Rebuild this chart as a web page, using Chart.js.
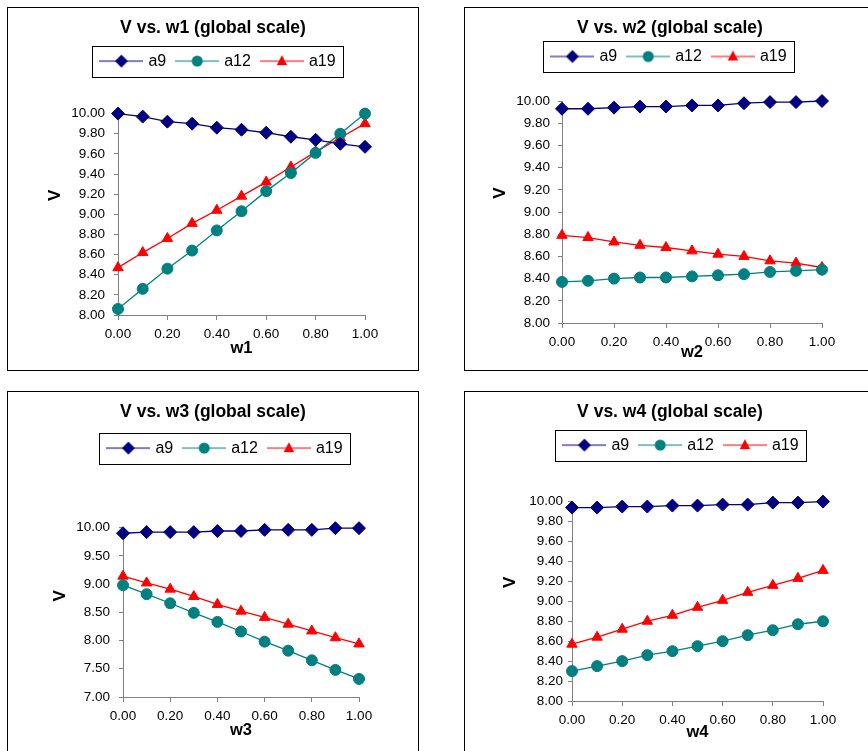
<!DOCTYPE html>
<html><head><meta charset="utf-8">
<script src="https://cdn.jsdelivr.net/npm/chart.js@4.4.0/dist/chart.umd.min.js"></script>
<style>
html,body{margin:0;padding:0;background:#fff;overflow:hidden;width:868px;height:751px;}
.panel{position:absolute;border:1px solid #000;background:#fff;width:410px;height:362px;}
.panel canvas{position:absolute;left:0;top:0;}
</style></head><body>
<div class="panel" style="left:7px;top:7px"><canvas id="c1" width="410" height="362"></canvas></div>
<div class="panel" style="left:464px;top:7px"><canvas id="c2" width="410" height="362"></canvas></div>
<div class="panel" style="left:7px;top:391px"><canvas id="c3" width="410" height="362"></canvas></div>
<div class="panel" style="left:464px;top:391px"><canvas id="c4" width="410" height="362"></canvas></div>
<script>
// ---- data ----
const wValues = [0.0, 0.1, 0.2, 0.3, 0.4, 0.5, 0.6, 0.7, 0.8, 0.9, 1.0];
const xTickValues = [0.0, 0.2, 0.4, 0.6, 0.8, 1.0];
const seriesNames = ['a9', 'a12', 'a19'];

const w1_a9  = [10.00, 9.97, 9.92, 9.90, 9.86, 9.84, 9.81, 9.77, 9.74, 9.70, 9.67];
const w1_a12 = [8.06, 8.26, 8.46, 8.64, 8.84, 9.03, 9.23, 9.41, 9.61, 9.80, 10.00];
const w1_a19 = [8.47, 8.62, 8.76, 8.91, 9.04, 9.18, 9.32, 9.47, 9.62, 9.76, 9.90];
const w1_yTicks = [8.0, 8.2, 8.4, 8.6, 8.8, 9.0, 9.2, 9.4, 9.6, 9.8, 10.0];

const w2_a9  = [9.93, 9.93, 9.94, 9.95, 9.95, 9.96, 9.96, 9.98, 9.99, 9.99, 10.00];
const w2_a12 = [8.37, 8.38, 8.40, 8.41, 8.41, 8.42, 8.43, 8.44, 8.46, 8.47, 8.48];
const w2_a19 = [8.79, 8.77, 8.73, 8.70, 8.68, 8.65, 8.62, 8.60, 8.56, 8.54, 8.50];
const w2_yTicks = [8.0, 8.2, 8.4, 8.6, 8.8, 9.0, 9.2, 9.4, 9.6, 9.8, 10.0];

const w3_a9  = [9.90, 9.92, 9.92, 9.92, 9.94, 9.94, 9.96, 9.96, 9.96, 9.99, 9.99];
const w3_a12 = [8.98, 8.82, 8.66, 8.49, 8.33, 8.16, 7.98, 7.82, 7.65, 7.48, 7.32];
const w3_a19 = [9.14, 9.02, 8.91, 8.78, 8.64, 8.52, 8.41, 8.29, 8.17, 8.05, 7.94];
const w3_yTicks = [7.0, 7.5, 8.0, 8.5, 9.0, 9.5, 10.0];

const w4_a9  = [9.94, 9.94, 9.95, 9.95, 9.96, 9.96, 9.97, 9.97, 9.99, 9.99, 10.00];
const w4_a12 = [8.30, 8.35, 8.40, 8.46, 8.50, 8.55, 8.60, 8.66, 8.71, 8.77, 8.80];
const w4_a19 = [8.57, 8.64, 8.72, 8.80, 8.86, 8.94, 9.01, 9.09, 9.16, 9.23, 9.31];
const w4_yTicks = [8.0, 8.2, 8.4, 8.6, 8.8, 9.0, 9.2, 9.4, 9.6, 9.8, 10.0];

// ---- styling ----
const FONT = "'Liberation Sans', Arial, Helvetica, sans-serif";
Chart.defaults.font.family = FONT;
Chart.defaults.color = '#000';
const AXIS_GRAY = '#808080';
const styles = [
  {color: '#000080', shape: 'rectRot', radius: 6.5},
  {color: '#008080', shape: 'circle', radius: 5.5},
  {color: '#FF0000', shape: 'triangle', radius: 6}
];

function makeIcon(st) {
  const c = document.createElement('canvas');
  c.width = 44; c.height = 16;
  const g = c.getContext('2d');
  const cy = 8, cx = 22;
  g.strokeStyle = st.color; g.lineWidth = 1.2;
  g.beginPath(); g.moveTo(0, cy); g.lineTo(44, cy); g.stroke();
  g.fillStyle = st.color;
  g.beginPath();
  const r = st.radius;
  if (st.shape === 'rectRot') {
    g.moveTo(cx - r, cy); g.lineTo(cx, cy - r); g.lineTo(cx + r, cy); g.lineTo(cx, cy + r);
  } else if (st.shape === 'circle') {
    g.arc(cx, cy, r, 0, Math.PI * 2);
  } else {
    g.moveTo(cx, cy - r); g.lineTo(cx + 0.866 * r, cy + 0.5 * r + 1); g.lineTo(cx - 0.866 * r, cy + 0.5 * r + 1);
  }
  g.closePath(); g.fill();
  return c;
}
const icons = styles.map(makeIcon);

const legendBox = {
  id: 'legendBox',
  afterLayout(chart, args, opts) {
    const lg = chart.legend;
    const dx = opts.shift || 0;
    lg.left += dx; lg.right += dx;
  },
  afterDraw(chart, args, opts) {
    const hb = chart.legend.legendHitBoxes;
    if (!hb || !hb.length) return;
    const ctx = chart.ctx;
    const last = hb[hb.length - 1];
    const l = hb[0].left - 3 - 7;
    const r = last.left + last.width + 8;
    const cy = hb[0].top + hb[0].height / 2;
    ctx.save();
    ctx.strokeStyle = '#000';
    ctx.lineWidth = 1;
    ctx.strokeRect(Math.round(l) + 0.5, Math.round(cy - 15.5) + 0.5, Math.round(r - l), 31);
    ctx.restore();
  }
};

function makeChart(id, xName, yTicks, s9, s12, s19, geo) {
  const series = [s9, s12, s19];
  const datasets = series.map((vals, i) => ({
    label: seriesNames[i],
    data: wValues.map((w, k) => ({x: w, y: vals[k]})),
    borderColor: styles[i].color,
    backgroundColor: styles[i].color,
    borderWidth: 1.3,
    pointStyle: styles[i].shape,
    pointRadius: styles[i].radius,
    pointBorderWidth: 1,
    pointBorderColor: styles[i].color,
    pointBackgroundColor: styles[i].color,
    tension: 0,
    clip: false
  }));
  const yStep = yTicks[1] - yTicks[0];
  const xStep = xTickValues[1] - xTickValues[0];
  return new Chart(document.getElementById(id), {
    type: 'line',
    data: {datasets},
    plugins: [legendBox],
    options: {
      responsive: false,
      animation: false,
      devicePixelRatio: 1,
      layout: {padding: 0},
      plugins: {
        tooltip: {enabled: false},
        title: {
          display: true,
          text: 'V vs. ' + xName + ' (global scale)',
          color: '#000',
          font: {size: 17.5, weight: 'bold', family: FONT, lineHeight: 1.2},
          padding: {top: 10, bottom: geo.titleBottom}
        },
        legend: {
          display: true,
          position: 'top',
          labels: {
            color: '#000',
            font: {size: 16, family: FONT},
            usePointStyle: true,
            pointStyleWidth: 38,
            padding: 12,
            generateLabels(chart) {
              const items = Chart.defaults.plugins.legend.labels.generateLabels(chart);
              items.forEach((it, i) => { it.pointStyle = icons[i]; });
              return items;
            }
          }
        },
        legendBox: {shift: geo.legendShift}
      },
      scales: {
        x: {
          type: 'linear',
          position: 'bottom',
          min: xTickValues[0],
          max: xTickValues[xTickValues.length - 1],
          ticks: {
            stepSize: xStep,
            callback: v => v.toFixed(2),
            font: {size: 13.5, family: FONT},
            color: '#000',
            padding: geo.xTickPad,
            maxRotation: 0,
            autoSkip: false
          },
          grid: {display: true, drawOnChartArea: false, drawTicks: true, tickLength: 5, color: AXIS_GRAY},
          border: {display: true, color: AXIS_GRAY, width: 1},
          title: {
            display: true, text: xName, color: '#000',
            font: {size: 16.5, weight: 'bold', family: FONT},
            padding: {top: 0, bottom: geo.xTitlePad}
          },
          afterFit(s) { s.height = geo.xH; }
        },
        y: {
          type: 'linear',
          position: 'left',
          min: yTicks[0],
          max: yTicks[yTicks.length - 1],
          ticks: {
            stepSize: yStep,
            callback: v => v.toFixed(2),
            font: {size: 13.5, family: FONT},
            color: '#000',
            padding: geo.yTickPad,
            autoSkip: false
          },
          grid: {display: true, drawOnChartArea: false, drawTicks: true, tickLength: 4, color: AXIS_GRAY},
          border: {display: true, color: AXIS_GRAY, width: 1},
          title: {
            display: true, text: 'V'.padStart(geo.yTitleShift + 1, ' '), color: '#000',
            font: {size: 17, weight: 'bold', family: FONT},
            padding: {top: geo.yTitlePad, bottom: 0}
          },
          afterFit(s) { s.width = geo.yW; }
        },
        xTopSpace: {
          type: 'linear', position: 'top', display: true,
          grid: {display: false}, border: {display: false}, ticks: {display: false},
          afterFit(s) { s.height = geo.topGap; }
        },
        yRightSpace: {
          type: 'linear', position: 'right', display: true,
          grid: {display: false}, border: {display: false}, ticks: {display: false},
          afterFit(s) { s.width = geo.rightW; }
        }
      }
    }
  });
}

makeChart('c1', 'w1', w1_yTicks, w1_a9, w1_a12, w1_a19,
  {yW: 110, xH: 55, rightW: 53, titleBottom: 2.1, topGap: 34.5, legendShift: 6,
   xTickPad: 6.5, xTitlePad: 12, yTickPad: 9, yTitlePad: 37, yTitleShift: 8});
makeChart('c2', 'w2', w2_yTicks, w2_a9, w2_a12, w2_a19,
  {yW: 97, xH: 47, rightW: 53, titleBottom: -2.5, topGap: 26.5, legendShift: 0,
   xTickPad: 6, xTitlePad: 7.5, yTickPad: 8, yTitlePad: 25, yTitleShift: 8});
makeChart('c3', 'w3', w3_yTicks, w3_a9, w3_a12, w3_a19,
  {yW: 115, xH: 57, rightW: 59, titleBottom: 5.1, topGap: 61.5, legendShift: 13,
   xTickPad: 6.5, xTitlePad: 13.5, yTickPad: 9, yTitlePad: 42, yTitleShift: 7});
makeChart('c4', 'w4', w4_yTicks, w4_a9, w4_a12, w4_a19,
  {yW: 107, xH: 53, rightW: 52, titleBottom: 2.1, topGap: 38.5, legendShift: 12,
   xTickPad: 6.5, xTitlePad: 11.5, yTickPad: 5, yTitlePad: 35, yTitleShift: 8});
</script>
</body></html>
